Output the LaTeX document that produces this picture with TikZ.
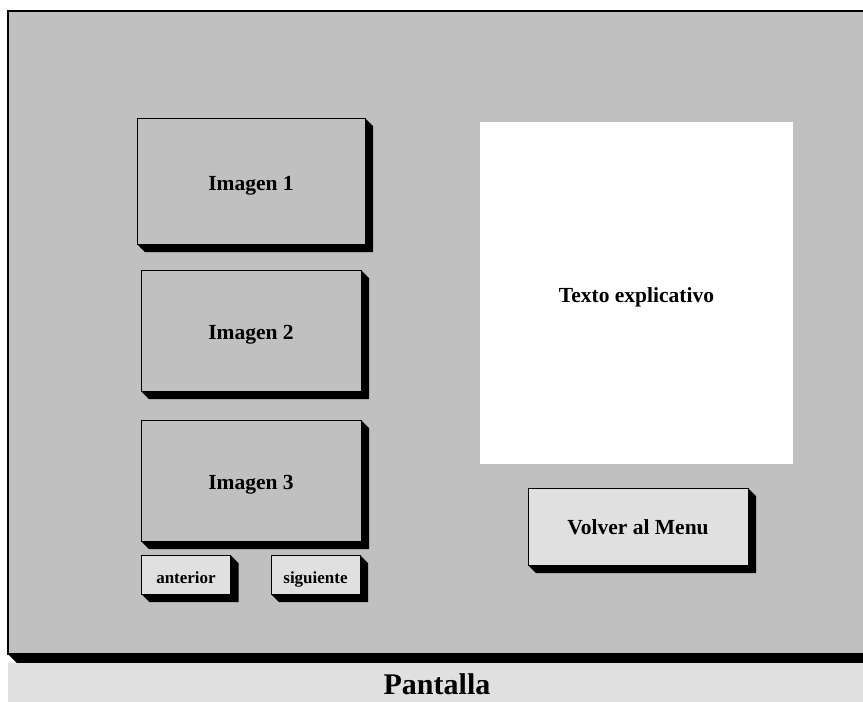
\documentclass[tikz,border=0pt]{standalone}
\usepackage{fontspec}
\setmainfont{Liberation Serif}
\definecolor{panelgray}{HTML}{C0C0C0}
\definecolor{btngray}{HTML}{E0E0E0}
\tikzset{
  screenbox/.style={draw=black, line width=1pt, fill=panelgray, inner sep=0pt, outer sep=0pt,
    font=\fontsize{21.5}{24}\selectfont\bfseries, text height=18pt, text depth=0pt},
  buttonbox/.style={screenbox, fill=btngray, text height=15pt},
  smallbtn/.style={buttonbox, font=\fontsize{17}{19}\selectfont\bfseries, text height=17pt},
  textarea/.style={fill=white, inner sep=0pt, outer sep=0pt,
    font=\fontsize{21.5}{24}\selectfont\bfseries, text height=18pt, text depth=0pt},
}
% black bevelled shadow along the right and bottom sides of a node
\newcommand\castshadow[2]{%
  \fill[black] (#1.north east) -- ++(#2,#2)
    -- ([shift={(#2,#2)}]#1.south east)
    -- ([shift={(#2,#2)}]#1.south west)
    -- (#1.south west) -- (#1.south east) -- cycle;}
\begin{document}
\begin{tikzpicture}[x=1pt, y=-1pt]
\useasboundingbox (0,0) rectangle (863,702);
\clip (0,0) rectangle (863,702);

% screen panel and its caption strip
\node[screenbox, line width=1.5pt, minimum width=872pt, minimum height=643pt] (screen) at (444,332.5) {};
\fill[black] (screen.south west) -- ++(9,9) -- ++(880,0) -- (screen.south east) -- cycle;
\fill[btngray] (8,663) rectangle (890,710);
\node[font=\fontsize{30}{33}\selectfont\bfseries, anchor=base, inner sep=0pt] (caption) at (437,694) {Pantalla};

% image slots
\node[screenbox, minimum width=228pt, minimum height=126pt] (img1) at (251,181) {Imagen 1};
\node[screenbox, minimum width=220pt, minimum height=121pt] (img2) at (251,330.5) {Imagen 2};
\node[screenbox, minimum width=220pt, minimum height=121pt] (img3) at (251,480.5) {Imagen 3};
\castshadow{img1}{8}
\castshadow{img2}{8}
\castshadow{img3}{8}

% navigation buttons
\node[smallbtn, minimum width=89pt, minimum height=39pt] (prev) at (186,574.5) {anterior};
\node[smallbtn, minimum width=89pt, minimum height=39pt] (next) at (315.5,574.5) {siguiente};
\castshadow{prev}{8}
\castshadow{next}{8}

% description area and menu button
\node[textarea, minimum width=313pt, minimum height=342pt] (desc) at (636.5,293) {Texto explicativo};
\node[buttonbox, minimum width=220pt, minimum height=77pt] (menu) at (638,526.5) {Volver al Menu};
\castshadow{menu}{8}
\end{tikzpicture}
\end{document}
